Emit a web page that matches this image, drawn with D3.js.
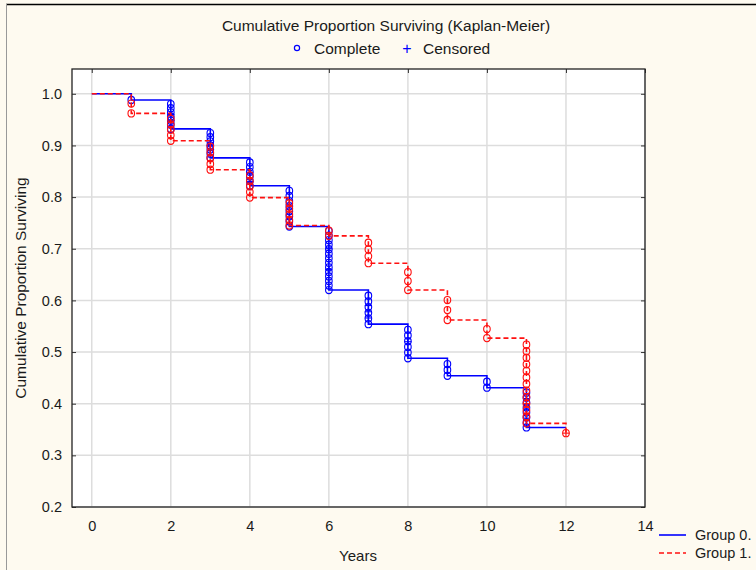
<!DOCTYPE html>
<html><head><meta charset="utf-8">
<script src="https://cdn.jsdelivr.net/npm/d3@7"></script>
<style>body{margin:0;background:#fefaf0;}svg{display:block;font-family:"Liberation Sans",Arial,sans-serif;}</style>
</head><body><svg id="c" width="756" height="570"></svg>
<script>
// ---- data ----
const xTicks = [0, 2, 4, 6, 8, 10, 12, 14];
const yTicks = [0.2, 0.3, 0.4, 0.5, 0.6, 0.7, 0.8, 0.9, 1.0];
// step curves: survival valid from time[i]
const g0Times = [0, 1, 2, 3, 4, 5, 6, 7, 8, 9, 10, 11, 12];
const g0Surv  = [1.0, 0.988, 0.932, 0.876, 0.822, 0.743, 0.620, 0.554, 0.488, 0.454, 0.431, 0.354, 0.354];
const g0Events = [0, 1, 7, 7, 6, 8, 14, 6, 6, 3, 2, 8, 0];
const g1Times = [0, 1, 2, 3, 4, 5, 6, 7, 8, 9, 10, 11, 12];
const g1Surv  = [1.0, 0.962, 0.909, 0.853, 0.799, 0.745, 0.725, 0.672, 0.620, 0.562, 0.527, 0.362, 0.343];
const g1Events = [0, 2, 5, 5, 5, 5, 2, 4, 3, 3, 2, 13, 1];
const g0Cens = [[2,0.960],[2,0.948],[3,0.900],[4,0.848],[4,0.830],[6,0.700],[6,0.660],[7,0.590],[7,0.578],[7,0.566],[8,0.520],[11,0.410],[11,0.390],[11,0.372]];
const g1Cens = [[11,0.400],[11,0.380],[12,0.343]];
const groups = ["Group 0.", "Group 1."];

const svg = d3.select("#c");
const W = 756, H = 570;
const P = {l: 72, t: 69, r: 645, b: 507};
const x = d3.scaleLinear().domain([-0.5, 14]).range([P.l, P.r]);
const y = d3.scaleLinear().domain([0.2, 1.048]).range([P.b, P.t]);
const BLUE = "#0000ff", RED = "#ff1010";
const FF = "Liberation Sans, Arial, sans-serif";

// frame
svg.append("rect").attr("x", 0).attr("y", 0).attr("width", W).attr("height", H).attr("fill", "#fefaf0");
svg.append("line").attr("x1", 6).attr("x2", W).attr("y1", 4.5).attr("y2", 4.5).attr("stroke", "#000").attr("stroke-width", 1.5);
svg.append("line").attr("x1", 6.5).attr("x2", 6.5).attr("y1", 4).attr("y2", H).attr("stroke", "#999").attr("stroke-width", 1);

// plot area
svg.append("rect").attr("x", P.l).attr("y", P.t).attr("width", P.r - P.l).attr("height", P.b - P.t).attr("fill", "#fff");
const grid = svg.append("g").attr("stroke", "#dddddd").attr("stroke-width", 1.5);
xTicks.forEach(t => grid.append("line").attr("x1", x(t)).attr("x2", x(t)).attr("y1", P.t).attr("y2", P.b));
yTicks.forEach(t => grid.append("line").attr("x1", P.l).attr("x2", P.r).attr("y1", y(t)).attr("y2", y(t)));

// axes (labels only, with inside ticks)
const yAx = svg.append("g").attr("transform", `translate(${P.l},0)`)
  .call(d3.axisLeft(y).tickValues(yTicks).tickFormat(d3.format(".1f")).tickSize(-4).tickPadding(10));
yAx.select(".domain").remove();
yAx.selectAll("line").attr("stroke", "#333");
yAx.selectAll("text").attr("font-size", 14.5).attr("fill", "#1a1a1a").attr("font-family", FF);
const yAxR = svg.append("g").attr("transform", `translate(${P.r},0)`)
  .call(d3.axisRight(y).tickValues(yTicks).tickFormat("").tickSize(-4));
yAxR.select(".domain").remove(); yAxR.selectAll("line").attr("stroke", "#333");
const xAx = svg.append("g").attr("transform", `translate(0,${P.b})`)
  .call(d3.axisBottom(x).tickValues(xTicks).tickFormat(d3.format("d")).tickSize(0).tickPadding(14));
xAx.select(".domain").remove();
xAx.selectAll("text").attr("font-size", 14.5).attr("fill", "#1a1a1a").attr("font-family", FF);
const xAxT = svg.append("g").attr("transform", `translate(0,${P.t})`)
  .call(d3.axisTop(x).tickValues(xTicks).tickFormat("").tickSize(-4));
xAxT.select(".domain").remove(); xAxT.selectAll("line").attr("stroke", "#333");

// curves
const line = d3.line().x(d => x(d[0])).y(d => y(d[1])).curve(d3.curveStepAfter);
function drawGroup(times, surv, events, cens, color, dash) {
  const pts = times.map((t, i) => [t, surv[i]]);
  svg.append("path").attr("d", line(pts)).attr("fill", "none").attr("stroke", color)
    .attr("stroke-width", 1.6).attr("stroke-dasharray", dash);
  const circles = [];
  for (let i = 1; i < times.length; i++) {
    const n = events[i]; if (!n) continue;
    const up = surv[i - 1], lo = surv[i];
    for (let k = 1; k <= n; k++) circles.push([times[i], up - (up - lo) * k / n]);
  }
  svg.append("g").selectAll("ellipse").data(circles).join("ellipse")
    .attr("cx", d => x(d[0])).attr("cy", d => y(d[1])).attr("rx", 3.3).attr("ry", 3.6)
    .attr("fill", "none").attr("stroke", color).attr("stroke-width", 1.1);
  const cg = svg.append("g").attr("stroke", color).attr("stroke-width", 1.1);
  cens.forEach(d => {
    cg.append("line").attr("x1", x(d[0]) - 3.5).attr("x2", x(d[0]) + 3.5).attr("y1", y(d[1])).attr("y2", y(d[1]));
    cg.append("line").attr("x1", x(d[0])).attr("x2", x(d[0])).attr("y1", y(d[1]) - 3.5).attr("y2", y(d[1]) + 3.5);
  });
}
drawGroup(g0Times, g0Surv, g0Events, g0Cens, BLUE, null);
drawGroup(g1Times, g1Surv, g1Events, g1Cens, RED, "5,3");

// plot border
svg.append("rect").attr("x", P.l).attr("y", P.t).attr("width", P.r - P.l).attr("height", P.b - P.t)
  .attr("fill", "none").attr("stroke", "#222").attr("stroke-width", 1.3);

// titles
svg.append("text").attr("x", 386).attr("y", 31).attr("text-anchor", "middle").attr("font-size", 15.5).attr("fill", "#1a1a1a")
  .text("Cumulative Proportion Surviving (Kaplan-Meier)");
svg.append("circle").attr("cx", 297).attr("cy", 48).attr("r", 2.6).attr("fill", "none").attr("stroke", BLUE).attr("stroke-width", 1.2);
svg.append("text").attr("x", 314).attr("y", 54).attr("font-size", 15.5).attr("fill", "#1a1a1a").text("Complete");
svg.append("text").attr("x", 407).attr("y", 54).attr("text-anchor", "middle").attr("font-size", 16).attr("fill", BLUE).text("+");
svg.append("text").attr("x", 423).attr("y", 54).attr("font-size", 15.5).attr("fill", "#1a1a1a").text("Censored");
svg.append("text").attr("x", 358).attr("y", 561).attr("text-anchor", "middle").attr("font-size", 15).attr("fill", "#1a1a1a").text("Years");
svg.append("text").attr("transform", "translate(26,288) rotate(-90)").attr("text-anchor", "middle").attr("font-size", 15.5).attr("fill", "#1a1a1a")
  .text("Cumulative Proportion Surviving");

// legend
const leg = svg.append("g");
groups.forEach((g, i) => {
  const yy = 535 + i * 18;
  leg.append("line").attr("x1", 659).attr("x2", 686).attr("y1", yy).attr("y2", yy)
    .attr("stroke", i ? RED : BLUE).attr("stroke-width", 1.6).attr("stroke-dasharray", i ? "5,3" : null);
  leg.append("text").attr("x", 695).attr("y", yy + 5).attr("font-size", 14.5).attr("fill", "#1a1a1a").text(g);
});
</script></body></html>
